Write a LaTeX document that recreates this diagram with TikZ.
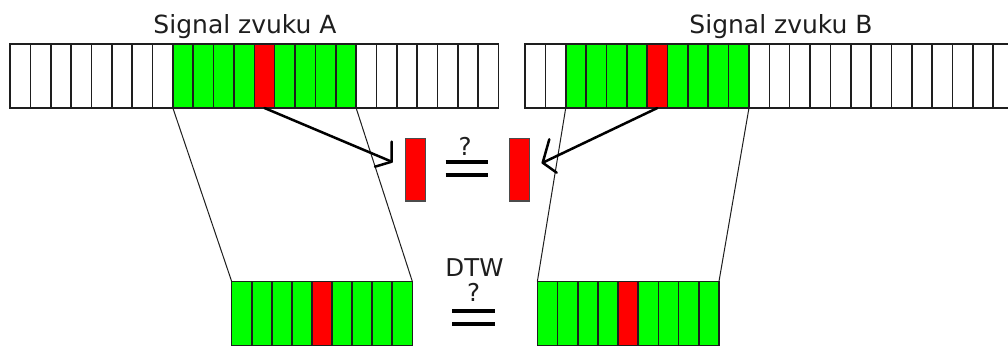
\documentclass[tikz,border=0pt]{standalone}
\usepackage{fontspec}
\setmainfont{DejaVu Sans}
\definecolor{sgreen}{RGB}{0,255,0}
\definecolor{sred}{RGB}{255,0,0}
\definecolor{ink}{RGB}{30,30,30}
\tikzset{
  cell/.style={draw=ink, line width=1.6pt, minimum width=20.36pt, minimum height=64pt, inner sep=0pt, outer sep=0pt},
  bcell/.style={draw=ink, line width=1.6pt, minimum width=20.1pt, minimum height=64pt, inner sep=0pt, outer sep=0pt},
  midbox/.style={draw=ink!80, line width=1.2pt, fill=sred, minimum width=20pt, minimum height=62.7pt, inner sep=0pt, outer sep=0pt},
  label/.style={anchor=base, inner sep=0pt, text=ink, font=\fontsize{25}{30}\selectfont},
  small/.style={anchor=base, inner sep=0pt, text=ink, font=\fontsize{24.5}{28}\selectfont},
  trap/.style={draw=ink, line width=1pt},
  arrowline/.style={draw=black, line width=2.5pt, line cap=round, line join=round},
  eqline/.style={draw=black, line width=4pt}
}
\begin{document}
\begin{tikzpicture}[x=1pt,y=-1pt]
\useasboundingbox (0,0) rectangle (1008,345);
\clip (0,0) rectangle (1008,345);
\fill[white] (0,0) rectangle (1008,345);
% signal A
\foreach \i in {1,...,24}{
  \ifnum\i<9 \def\cc{white}\else\ifnum\i<18 \def\cc{sgreen}\else\def\cc{white}\fi\fi
  \ifnum\i=13 \def\cc{sred}\fi
  \node[cell,fill=\cc] (a\i) at ({10+(\i-0.5)*20.36},76) {};
}
% signal B
\foreach \i in {1,...,24}{
  \ifnum\i<3 \def\cc{white}\else\ifnum\i<12 \def\cc{sgreen}\else\def\cc{white}\fi\fi
  \ifnum\i=7 \def\cc{sred}\fi
  \node[cell,fill=\cc] (b\i) at ({525+(\i-0.5)*20.36},76) {};
}
% bottom strips
\foreach \i in {1,...,9}{
  \ifnum\i=5 \def\cc{sred}\else\def\cc{sgreen}\fi
  \node[bcell,fill=\cc] (c\i) at ({231.7+(\i-0.5)*20.07},313.5) {};
  \node[bcell,fill=\cc] (d\i) at ({537.3+(\i-0.5)*20.19},313.5) {};
}
% labels
\node[label] (la) at (245,33.3) {Signal zvuku A};
\node[label] (lb) at (781,33.3) {Signal zvuku B};
% trapezoid lines
\draw[trap] (a9.south west) -- (c1.north west);
\draw[trap] (a17.south east) -- (c9.north east);
\draw[trap] (b3.south west) -- (d1.north west);
\draw[trap] (b11.south east) -- (d9.north east);
% middle boxes
\node[midbox] (m1) at (415.7,169.7) {};
\node[midbox] (m2) at (519.5,169.7) {};
% arrows
\coordinate (tipA) at (391.7,161.7);
\coordinate (tipB) at (542.7,162.7);
\draw[arrowline] (a13.south) -- (tipA);
\draw[arrowline] (tipA) ++(0,-20) -- (tipA) -- ++(-16.7,5);
\draw[arrowline] (b7.south) -- (tipB);
\draw[arrowline] (tipB) ++(6.6,-23.4) -- (tipB) -- ++(14,10);
% middle equality
\node[small] (q1) at (465,155) {?};
\draw[eqline] (445.7,161.7) -- (487.7,161.7);
\draw[eqline] (445.7,175) -- (487.7,175);
% DTW equality
\node[small] (dtw) at (474.5,276.7) {DTW};
\node[small] (q2) at (473.5,301.7) {?};
\draw[eqline] (452,311) -- (495,311);
\draw[eqline] (452,324) -- (495,324);
\end{tikzpicture}
\end{document}
